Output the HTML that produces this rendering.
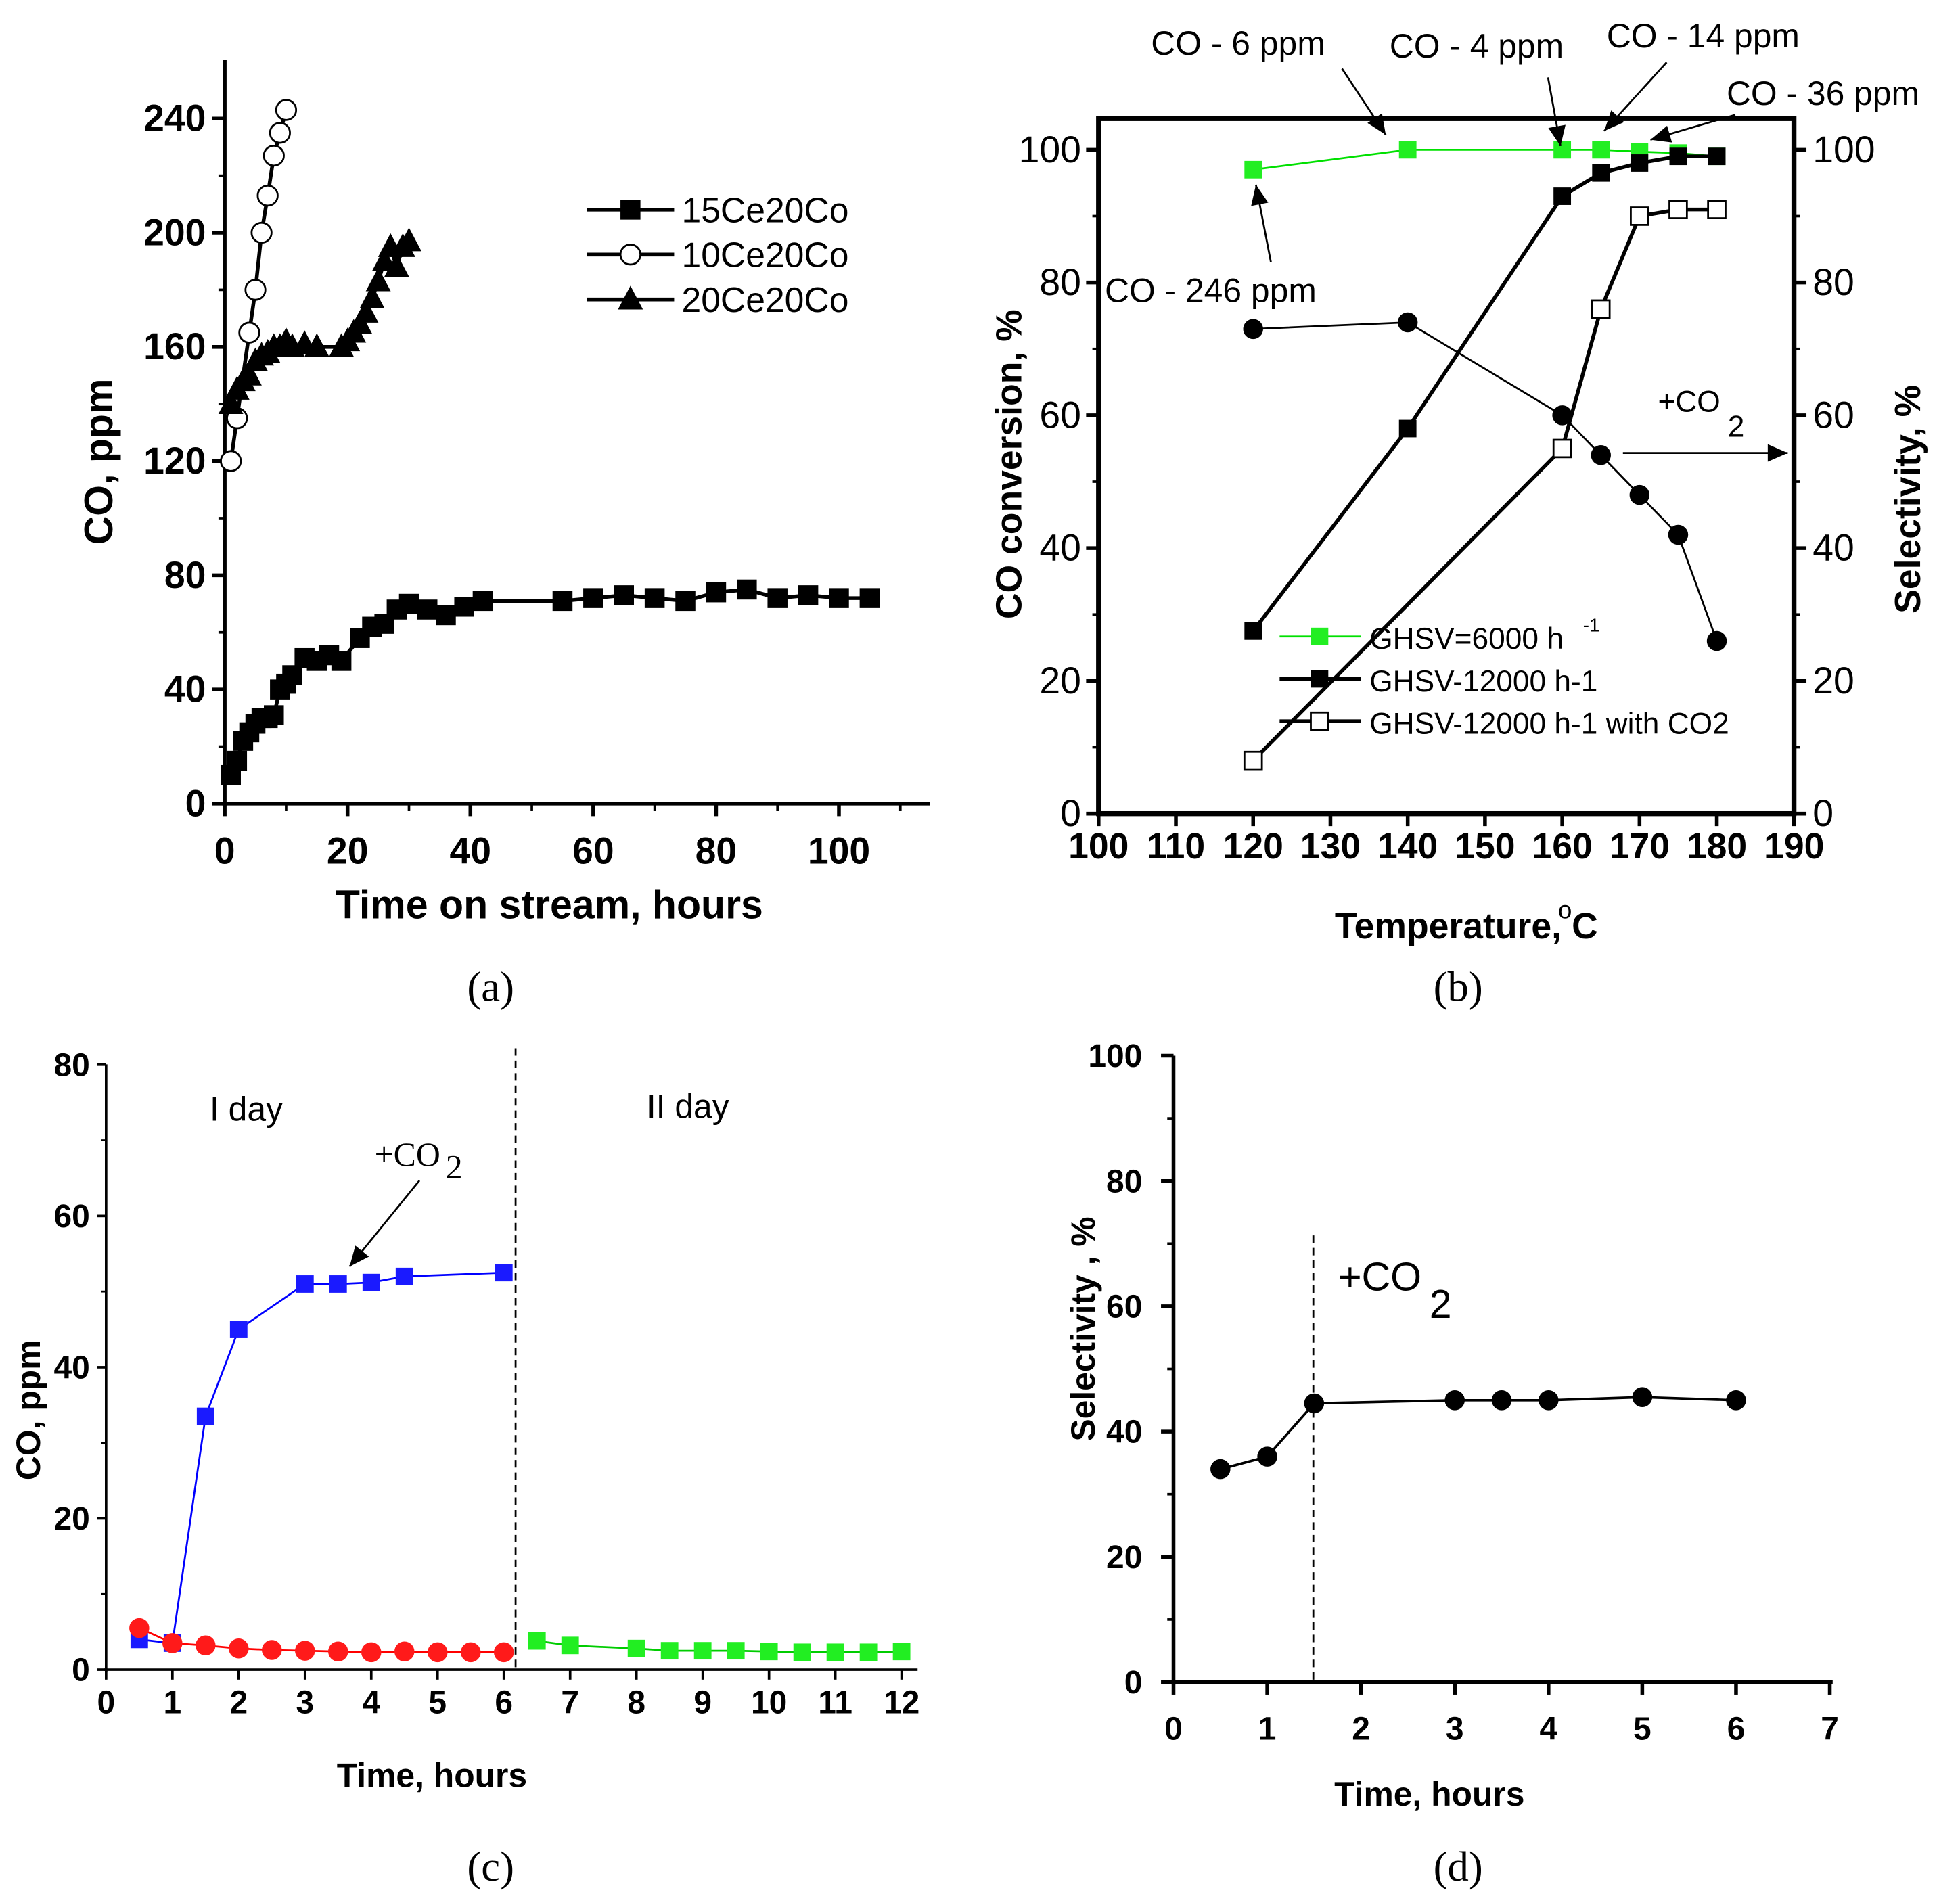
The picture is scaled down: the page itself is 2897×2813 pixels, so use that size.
<!DOCTYPE html>
<html><head><meta charset="utf-8"><style>
html,body{margin:0;padding:0;background:#fff;width:2897px;height:2813px;overflow:hidden}
svg{display:block}
text{font-family:"Liberation Sans",sans-serif;fill:#000}
.b{font-weight:bold}
.s{font-family:"Liberation Serif",serif}
</style></head><body>
<svg id="fig" width="2897" height="2813" viewBox="0 0 1570 1525" preserveAspectRatio="none" xmlns="http://www.w3.org/2000/svg">
<g id="g"></g>
</svg>
<script>
// Panel a data
const aTimeSq=[1,2,3,4,5,6,7,8,9,10,11,13,15,17,19,22,24,26,28,30,33,36,39,42,55,60,65,70,75,80,85,90,95,100,105];
const aValSq=[10,15,22,25,28,30,30,31,40,42,45,51,50,52,50,58,62,63,68,70,68,66,69,71,71,72,73,72,71,74,75,72,73,72,72];
const aTimeCi=[1,2,4,5,6,7,8,9,10];
const aValCi=[120,135,165,180,200,213,227,235,243];
const aTimeTr=[1,2,3,4,5,6,7,8,9,10,11,13,15,19,20,21,22,23,24,25,26,27,28,29,30];
const aValTr=[140,145,148,150,155,157,158,160,160,162,160,161,160,160,162,165,168,172,177,183,190,195,188,195,197];
const aYTicks=[0,40,80,120,160,200,240];
const aXTicks=[0,20,40,60,80,100];
// Panel b data
const bTemps=[120,140,160,165,170,175,180];
const bGreen=[97,100,100,100,99.7,99.5,99];
const bBlack=[27.5,58,93,96.5,98,99,99];
const bSel=[73,74,60,54,48,42,26];
const bOpenT=[120,160,165,170,175,180];
const bOpen=[8,55,76,90,91,91];
const bXTicks=[100,110,120,130,140,150,160,170,180,190];
const bYTicks=[0,20,40,60,80,100];
// Panel c data
const cBlueT=[0.5,1,1.5,2,3,3.5,4,4.5,6];
const cBlue=[4,3.5,33.5,45,51,51,51.2,52,52.5];
const cRedT=[0.5,1,1.5,2,2.5,3,3.5,4,4.5,5,5.5,6];
const cRed=[5.5,3.5,3.2,2.8,2.6,2.5,2.4,2.3,2.4,2.3,2.3,2.3];
const cGreenT=[6.5,7,8,8.5,9,9.5,10,10.5,11,11.5,12];
const cGreen=[3.8,3.2,2.8,2.5,2.5,2.5,2.4,2.3,2.3,2.3,2.4];
const cXTicks=[0,1,2,3,4,5,6,7,8,9,10,11,12];
const cYTicks=[0,20,40,60,80];
// Panel d data
const dT=[0.5,1,1.5,3,3.5,4,5,6];
const dSel=[34,36,44.5,45,45,45,45.5,45];
const dXTicks=[0,1,2,3,4,5,6,7];
const dYTicks=[0,20,40,60,80,100];

const NS="http://www.w3.org/2000/svg";
const G=document.getElementById('g');
function el(tag,attrs,name,parent){const e=document.createElementNS(NS,tag);for(const k in attrs)e.setAttribute(k,attrs[k]);


(parent||G).appendChild(e);return e;}
function txt(x,y,s,size,name,extra){const t=el('text',Object.assign({x:x,y:y,'font-size':size},extra||{}),name);t.textContent=s;return t;}
function line(x1,y1,x2,y2,w,name,extra){return el('line',Object.assign({x1:x1,y1:y1,x2:x2,y2:y2,stroke:'#000','stroke-width':w},extra||{}),name);}
function poly(xs,ys,sx,sy,color,w,name){el('polyline',{points:xs.map((v,i)=>sx(v)+','+sy(ys[i])).join(' '),fill:'none',stroke:color,'stroke-width':w},name);}
function marks(xs,ys,sx,sy,shape,fill,r,name){xs.forEach((v,i)=>{const x=sx(v),y=sy(ys[i]);
if(shape==='sq')el('rect',{x:x-r,y:y-r,width:2*r,height:2*r,fill:fill,stroke:'#000','stroke-width':fill==='#fff'?1.5:0},name);
else if(shape==='ci')el('circle',{cx:x,cy:y,r:r,fill:fill,stroke:fill==='#fff'?'#000':'none','stroke-width':1.5},name);
else el('polygon',{points:`${x},${y-r*1.1} ${x-r},${y+r*0.8} ${x+r},${y+r*0.8}`,fill:fill},name);});}
function arrow(x1,y1,x2,y2,name){line(x1,y1,x2,y2,1.5,name);const a=Math.atan2(y2-y1,x2-x1),L=16,W=7;
el('polygon',{points:`${x2},${y2} ${x2-L*Math.cos(a)+W*Math.sin(a)},${y2-L*Math.sin(a)-W*Math.cos(a)} ${x2-L*Math.cos(a)-W*Math.sin(a)},${y2-L*Math.sin(a)+W*Math.cos(a)}`,fill:'#000'},name+'-head');}

// ---------- Panel a ----------
{const X=v=>180+v*4.92,Y=v=>644-v*2.2875;
line(180,48,180,646,3,'a-y-axis');line(178,644,745,644,3,'a-x-axis');
aYTicks.forEach(v=>{line(170,Y(v),180,Y(v),3,'a-y-tick');txt(165,Y(v)+10,String(v),30,'a-y-tick-label',{'text-anchor':'end',class:'b'});});
aYTicks.slice(0,-1).forEach(v=>line(175,Y(v+20),180,Y(v+20),2,'a-y-minor-tick'));
aXTicks.forEach(v=>{line(X(v),644,X(v),654,3,'a-x-tick');txt(X(v),692,String(v),30,'a-x-tick-label',{'text-anchor':'middle',class:'b'});});
aXTicks.forEach(v=>line(X(v+10),644,X(v+10),650,2,'a-x-minor-tick'));
txt(440,736,'Time on stream, hours',32,'a-x-axis-title',{'text-anchor':'middle',class:'b'});
txt(90,370,'CO, ppm',32,'a-y-axis-title',{'text-anchor':'middle',class:'b',transform:'rotate(-90 90 370)'});
poly(aTimeSq,aValSq,X,Y,'#000',3,'a-line-15ce20co');marks(aTimeSq,aValSq,X,Y,'sq','#000',8,'a-point-15ce20co');
poly(aTimeCi,aValCi,X,Y,'#000',3,'a-line-10ce20co');marks(aTimeCi,aValCi,X,Y,'ci','#fff',8,'a-point-10ce20co');
poly(aTimeTr,aValTr,X,Y,'#000',3,'a-line-20ce20co');marks(aTimeTr,aValTr,X,Y,'tr','#000',10,'a-point-20ce20co');
[['15Ce20Co','sq',168],['10Ce20Co','ci',204],['20Ce20Co','tr',240]].forEach(([n,s,y])=>{line(470,y,540,y,3,'legend-line');
marks([0],[0],()=>505,()=>y,s,s==='ci'?'#fff':'#000',s==='tr'?10:8,'legend-marker');txt(546,y+10,n,28,'legend-entry');});
txt(393,802,'(a)',34,'caption-a',{'text-anchor':'middle',class:'s'});}

// ---------- Panel b ----------
{const X=v=>880+(v-100)*6.19,Y=v=>652-v*5.32;
el('rect',{x:880,y:95,width:557,height:557,fill:'none',stroke:'#000','stroke-width':4},'b-plot-frame');
bYTicks.forEach(v=>{line(870,Y(v),880,Y(v),3,'b-y-tick');line(1437,Y(v),1447,Y(v),3,'b-y2-tick');
txt(866,Y(v)+10,String(v),30,'b-y-tick-label',{'text-anchor':'end'});txt(1452,Y(v)+10,String(v),30,'b-y2-tick-label');});
bYTicks.slice(0,-1).forEach(v=>{line(875,Y(v+10),880,Y(v+10),2,'b-y-minor');line(1437,Y(v+10),1442,Y(v+10),2,'b-y2-minor');});
bXTicks.forEach(v=>{line(X(v),652,X(v),662,3,'b-x-tick');txt(X(v),688,String(v),29,'b-x-tick-label',{'text-anchor':'middle',class:'b'});});
txt(1160,752,'Temperature, ',29,'b-x-axis-title',{'text-anchor':'middle',class:'b'});
txt(1248,736,'o',20,'b-degree');txt(1259,752,'C',29,'b-x-axis-unit',{class:'b'});
txt(818,372,'CO conversion, %',29,'b-y-axis-title',{'text-anchor':'middle',class:'b',transform:'rotate(-90 818 372)'});
txt(1538,400,'Selectivity, %',29,'b-y2-axis-title',{'text-anchor':'middle',class:'b',transform:'rotate(-90 1538 400)'});
poly(bTemps,bGreen,X,Y,'#00e000',1.5,'b-line-ghsv6000');marks(bTemps,bGreen,X,Y,'sq','#22ee22',7,'b-point-ghsv6000');
poly(bTemps,bBlack,X,Y,'#000',3,'b-line-ghsv12000');marks(bTemps,bBlack,X,Y,'sq','#000',7,'b-point-ghsv12000');
poly(bTemps,bSel,X,Y,'#000',1.5,'b-line-selectivity');marks(bTemps,bSel,X,Y,'ci','#000',8,'b-point-selectivity');
poly(bOpenT,bOpen,X,Y,'#000',3,'b-line-co2');marks(bOpenT,bOpen,X,Y,'sq','#fff',7,'b-point-co2');
line(1025,510,1090,510,1.5,'legend-line',{stroke:'#00e000'});el('rect',{x:1050,y:503,width:14,height:14,fill:'#22ee22'},'legend-marker');
txt(1097,520,'GHSV=6000 h',24,'legend-entry');txt(1268,506,'-1',15,'legend-sup');
line(1025,544,1090,544,3,'legend-line');el('rect',{x:1050,y:537,width:14,height:14,fill:'#000'},'legend-marker');txt(1097,554,'GHSV-12000 h-1',24,'legend-entry');
line(1025,578,1090,578,3,'legend-line');el('rect',{x:1050,y:571,width:14,height:14,fill:'#fff',stroke:'#000','stroke-width':1.5},'legend-marker');txt(1097,588,'GHSV-12000 h-1 with CO2',24,'legend-entry');
txt(922,44,'CO - 6 ppm',27,'b-annotation');arrow(1075,55,1110,108,'b-arrow');
txt(1113,46,'CO - 4 ppm',27,'b-annotation');arrow(1240,62,1250,117,'b-arrow');
txt(1287,38,'CO - 14 ppm',27,'b-annotation');arrow(1335,50,1285,105,'b-arrow');
txt(1383,84,'CO - 36 ppm',27,'b-annotation');arrow(1390,92,1322,112,'b-arrow');
txt(885,242,'CO - 246 ppm',27,'b-annotation');arrow(1018,210,1006,148,'b-arrow');
txt(1328,330,'+CO',24,'b-co2-label');txt(1384,350,'2',24,'b-co2-sub');arrow(1300,363,1432,363,'b-arrow');
txt(1168,802,'(b)',34,'caption-b',{'text-anchor':'middle',class:'s'});}

// ---------- Panel c ----------
{const X=v=>85+v*53.1,Y=v=>1338-v*6.06;
line(85,853,85,1340,2,'c-y-axis');line(83,1338,735,1338,2,'c-x-axis');
cYTicks.forEach(v=>{line(78,Y(v),85,Y(v),2,'c-y-tick');txt(72,Y(v)+9,String(v),26,'c-y-tick-label',{'text-anchor':'end',class:'b'});});
cYTicks.slice(0,-1).forEach(v=>line(81,Y(v+10),85,Y(v+10),1.5,'c-y-minor'));
cXTicks.forEach(v=>{line(X(v),1338,X(v),1346,2,'c-x-tick');txt(X(v),1373,String(v),26,'c-x-tick-label',{'text-anchor':'middle',class:'b'});});
txt(346,1432,'Time, hours',27,'c-x-axis-title',{'text-anchor':'middle',class:'b'});
txt(32,1130,'CO, ppm',27,'c-y-axis-title',{'text-anchor':'middle',class:'b',transform:'rotate(-90 32 1130)'});
line(413,840,413,1338,1.5,'c-day-divider',{'stroke-dasharray':'6,4'});
txt(168,898,'I day',27,'c-label-day1');txt(518,896,'II day',27,'c-label-day2');
txt(300,934,'+CO',27,'c-co2-label',{class:'s'});txt(357,944,'2',27,'c-co2-sub',{class:'s'});arrow(336,946,280,1015,'c-arrow');
poly(cBlueT,cBlue,X,Y,'#0000ff',1.5,'c-line-blue');marks(cBlueT,cBlue,X,Y,'sq','#1a1aff',7,'c-point-blue');
poly(cRedT,cRed,X,Y,'#ff0000',1.5,'c-line-red');marks(cRedT,cRed,X,Y,'ci','#ff1a1a',8,'c-point-red');
poly(cGreenT,cGreen,X,Y,'#00cc00',1.5,'c-line-green');marks(cGreenT,cGreen,X,Y,'sq','#22ee22',7,'c-point-green');
txt(393,1507,'(c)',34,'caption-c',{'text-anchor':'middle',class:'s'});}

// ---------- Panel d ----------
{const X=v=>940+v*75.1,Y=v=>1348-v*5.02;
line(940,846,940,1350,3,'d-y-axis');line(938,1348,1468,1348,3,'d-x-axis');
dYTicks.forEach(v=>{line(930,Y(v),940,Y(v),3,'d-y-tick');txt(915,Y(v)+9,String(v),26,'d-y-tick-label',{'text-anchor':'end',class:'b'});});
dYTicks.slice(0,-1).forEach(v=>line(935,Y(v+10),940,Y(v+10),2,'d-y-minor'));
dXTicks.forEach(v=>{line(X(v),1348,X(v),1358,3,'d-x-tick');txt(X(v),1394,String(v),26,'d-x-tick-label',{'text-anchor':'middle',class:'b'});});
txt(1145,1447,'Time, hours',27,'d-x-axis-title',{'text-anchor':'middle',class:'b'});
txt(877,1065,'Selectivity , %',27,'d-y-axis-title',{'text-anchor':'middle',class:'b',transform:'rotate(-90 877 1065)'});
line(1052,990,1052,1348,1.5,'d-co2-divider',{'stroke-dasharray':'6,4'});
txt(1072,1034,'+CO',32,'d-co2-label');txt(1145,1056,'2',32,'d-co2-sub');
poly(dT,dSel,X,Y,'#000',2,'d-line-selectivity');marks(dT,dSel,X,Y,'ci','#000',8,'d-point-selectivity');
txt(1168,1507,'(d)',34,'caption-d',{'text-anchor':'middle',class:'s'});}
</script>
</body></html>
